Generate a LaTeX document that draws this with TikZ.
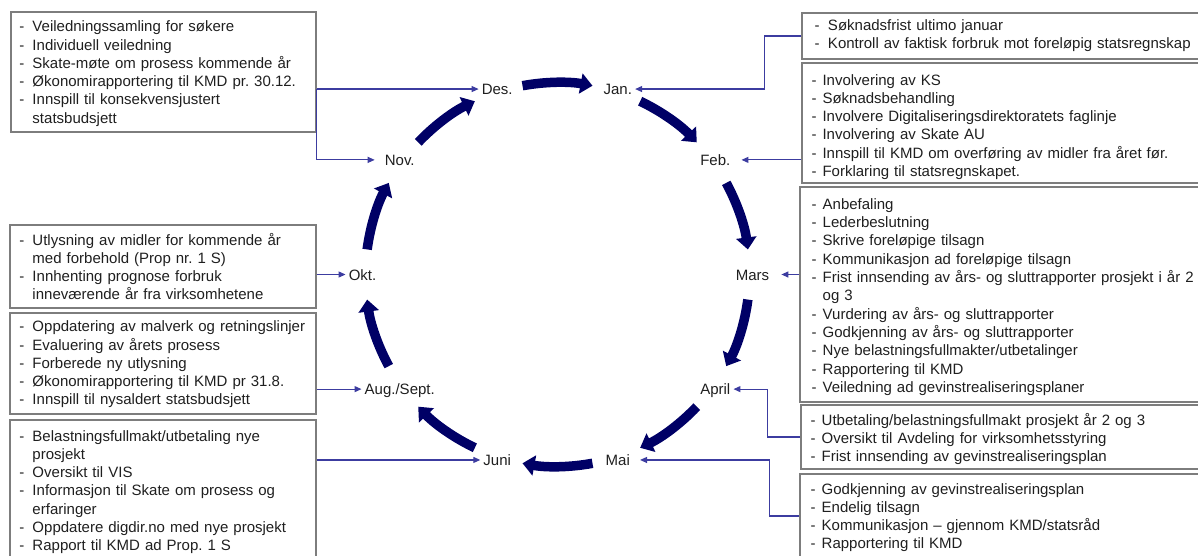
\documentclass[tikz,border=0pt]{standalone}
\usepackage{fontspec}
\setmainfont{Liberation Sans}
\usetikzlibrary{arrows.meta,calc}
\definecolor{navyarrow}{RGB}{0,0,102}
\definecolor{linkblue}{RGB}{60,60,160}
\definecolor{boxgray}{RGB}{125,125,125}
\newcommand\itm[1][11pt]{\makebox[#1][l]{-}}
\newcommand\cnt[1][11pt]{\hspace*{#1}}
\frenchspacing
\begin{document}
\begin{tikzpicture}[x=1pt,y=1pt,
  box/.style={draw=boxgray, line width=1.6pt, inner sep=0pt},
  txt/.style={anchor=base west, inner sep=0pt, text width=390pt, align=left,
    font=\fontsize{15}{18.3}\selectfont\frenchspacing, text=black!88},
  month/.style={inner sep=3pt, font=\fontsize{15}{18.3}\selectfont,
    text height=11pt, text depth=0pt, text=black!88},
  link/.style={draw=linkblue, line width=1.2pt, -{Triangle[length=7pt,width=6pt]}},
  cyc/.style={draw=navyarrow, line width=9.5pt, -{Triangle[length=12pt,width=20pt]}}]
\useasboundingbox (0,0) rectangle (1198,-555);
\coordinate (C) at (557.5,-274.5);

% month labels
\node[month] (des)  at ($(C)+(108:195)$) {Des.};
\node[month] (jan)  at ($(C)+(72:195)$)  {Jan.};
\node[month] (feb)  at ($(C)+(36:195)$)  {Feb.};
\node[month] (mars) at ($(C)+(0:195)$)   {Mars};
\node[month] (apr)  at ($(C)+(-36:195)$) {April};
\node[month] (mai)  at ($(C)+(-72:195)$) {Mai};
\node[month] (juni) at ($(C)+(-108:195)$) {Juni};
\node[month] (aug)  at ($(C)+(-144:195)$) {Aug./Sept.};
\node[month] (okt)  at ($(C)+(180:195)$) {Okt.};
\node[month] (nov)  at ($(C)+(144:195)$) {Nov.};

% cycle arrows
\foreach \m in {90,54,18,-18,-54,-90,-126,-162,-198,-234}
  \draw[cyc] ($(C)+({\m+10.5}:192)$) arc[start angle={\m+10.5}, end angle={\m-10.5}, radius=192];

% boxes
\node[box, minimum width=305pt, minimum height=120pt] (bD)   at (163.5,-72) {};
\node[box, minimum width=403pt, minimum height=46pt]  (bJ)   at (1003.5,-36) {};
\node[box, minimum width=403pt, minimum height=120pt] (bF)   at (1003.5,-123) {};
\node[box, minimum width=405pt, minimum height=215pt] (bM)   at (1002.5,-294.5) {};
\node[box, minimum width=404pt, minimum height=64pt]  (bA)   at (1003,-437) {};
\node[box, minimum width=405pt, minimum height=84pt]  (bMai) at (1002.5,-516) {};
\node[box, minimum width=306pt, minimum height=83pt]  (bO)   at (163,-266.5) {};
\node[box, minimum width=306pt, minimum height=101pt] (bAug) at (163,-363.5) {};
\node[box, minimum width=306pt, minimum height=145pt] (bJu)  at (163,-492.5) {};

% texts
\node[txt] (tD) at (19.3,-31.7) {\itm[13pt]Veiledningssamling for søkere\\
\itm[13pt]Individuell veiledning\\
\itm[13pt]Skate-møte om prosess kommende år\\
\itm[13pt]Økonomirapportering til KMD pr. 30.12.\\
\itm[13pt]Innspill til konsekvensjustert\\
\cnt[13pt]statsbudsjett};

\node[txt] (tJ) at (814.3,-30.5) {\itm[13.5pt]Søknadsfrist ultimo januar\\
\itm[13.5pt]Kontroll av faktisk forbruk mot foreløpig statsregnskap};

\node[txt] (tF) at (811.3,-85) {\itm Involvering av KS\\
\itm Søknadsbehandling\\
\itm Involvere Digitaliseringsdirektoratets faglinje\\
\itm Involvering av Skate AU\\
\itm Innspill til KMD om overføring av midler fra året før.\\
\itm Forklaring til statsregnskapet.};

\node[txt] (tM) at (811.5,-209.3) {\itm Anbefaling\\
\itm Lederbeslutning\\
\itm Skrive foreløpige tilsagn\\
\itm Kommunikasjon ad foreløpige tilsagn\\
\itm Frist innsending av års- og sluttrapporter prosjekt i år 2\\
\cnt og 3\\
\itm Vurdering av års- og sluttrapporter\\
\itm Godkjenning av års- og sluttrapporter\\
\itm Nye belastningsfullmakter/utbetalinger\\
\itm Rapportering til KMD\\
\itm Veiledning ad gevinstrealiseringsplaner};

\node[txt] (tA) at (810.5,-425) {\itm Utbetaling/belastningsfullmakt prosjekt år 2 og 3\\
\itm Oversikt til Avdeling for virksomhetsstyring\\
\itm Frist innsending av gevinstrealiseringsplan};

\node[txt] (tMai) at (810.5,-494) {\itm Godkjenning av gevinstrealiseringsplan\\
\itm Endelig tilsagn\\
\itm Kommunikasjon – gjennom KMD/statsråd\\
\itm Rapportering til KMD};

\node[txt] (tO) at (19.3,-245) {\itm[13pt]Utlysning av midler for kommende år\\
\cnt[13pt]med forbehold (Prop nr. 1 S)\\
\itm[13pt]Innhenting prognose forbruk\\
\cnt[13pt]inneværende år fra virksomhetene};

\node[txt] (tAug) at (19.3,-331.7) {\itm[13pt]Oppdatering av malverk og retningslinjer\\
\itm[13pt]Evaluering av årets prosess\\
\itm[13pt]Forberede ny utlysning\\
\itm[13pt]Økonomirapportering til KMD pr 31.8.\\
\itm[13pt]Innspill til nysaldert statsbudsjett};

\node[txt] (tJu) at (19.3,-441) {\itm[13pt]Belastningsfullmakt/utbetaling nye\\
\cnt[13pt]prosjekt\\
\itm[13pt]Oversikt til VIS\\
\itm[13pt]Informasjon til Skate om prosess og\\
\cnt[13pt]erfaringer\\
\itm[13pt]Oppdatere digdir.no med nye prosjekt\\
\itm[13pt]Rapport til KMD ad Prop. 1 S};

% connectors
\coordinate (dj) at (bD.east |- des.west);
\draw[link] (dj) -- (des.west);
\draw[link] (dj) |- ([xshift=-7pt]nov.west);
\draw[link] (bJ.west) -- ++(-37,0) |- (jan.east);
\draw[link] (bF.west |- feb.east) -- ([xshift=8pt]feb.east);
\draw[link] (bM.west |- mars.east) -- ([xshift=9pt]mars.east);
\draw[link] (bA.west) -- ++(-33,0) |- (apr.east);
\draw[link] (bMai.west) -- ++(-30,0) |- ([xshift=7pt]mai.east);
\draw[link] (bO.east |- okt.west) -- (okt.west);
\draw[link] (bAug.east |- aug.west) -- (aug.west);
\draw[link] (bJu.east |- juni.west) -- (juni.west);
\end{tikzpicture}
\end{document}
